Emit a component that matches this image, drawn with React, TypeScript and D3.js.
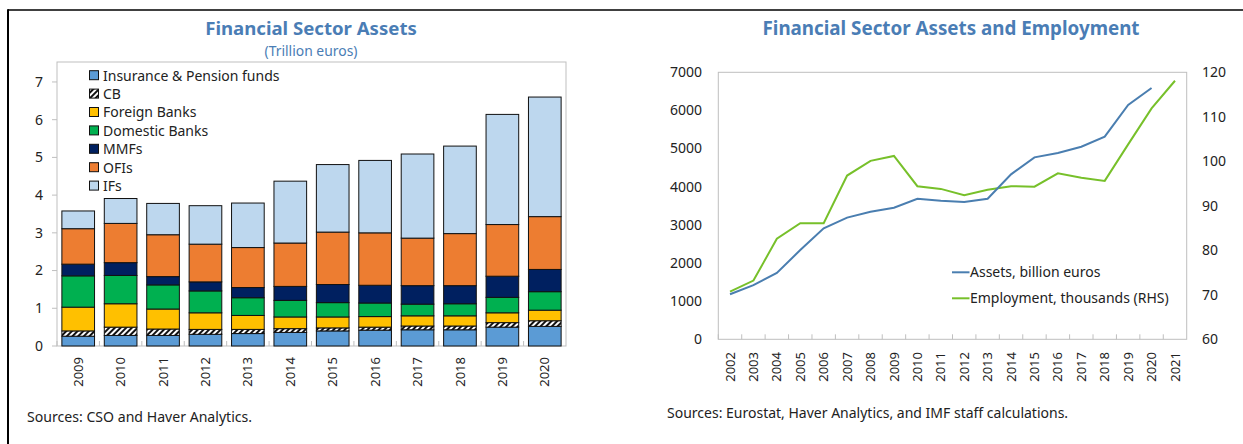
import React from "react";
import * as d3 from "d3";

// ---------- Left chart data ----------
const years1 = ["2009","2010","2011","2012","2013","2014","2015","2016","2017","2018","2019","2020"];
const insurance = [0.26,0.28,0.28,0.31,0.33,0.36,0.40,0.42,0.43,0.43,0.50,0.52];
const cb        = [0.14,0.22,0.17,0.13,0.11,0.10,0.08,0.08,0.10,0.10,0.12,0.15];
const foreign   = [0.63,0.62,0.53,0.44,0.37,0.31,0.29,0.28,0.27,0.27,0.26,0.28];
const domestic  = [0.83,0.75,0.64,0.58,0.47,0.44,0.38,0.36,0.31,0.32,0.41,0.49];
const mmfs      = [0.31,0.34,0.22,0.24,0.27,0.37,0.48,0.47,0.49,0.48,0.56,0.59];
const ofis      = [0.94,1.04,1.11,1.00,1.06,1.15,1.39,1.39,1.26,1.38,1.37,1.40];
const ifs       = [0.47,0.66,0.83,1.02,1.18,1.64,1.79,1.92,2.23,2.32,2.92,3.17];
const seriesNames = ["Insurance & Pension funds","CB","Foreign Banks","Domestic Banks","MMFs","OFIs","IFs"];
const seriesKeys = ["ins","cb","for","dom","mmf","ofi","if"];
const seriesColors = ["#5B9BD5","url(#hatch)","#FFC000","#00B050","#002060","#ED7D31","#BDD7EE"];
const yTicks1 = [0,1,2,3,4,5,6,7];

// ---------- Right chart data ----------
const years2 = ["2002","2003","2004","2005","2006","2007","2008","2009","2010","2011","2012","2013","2014","2015","2016","2017","2018","2019","2020","2021"];
const assets: (number|null)[] = [1180,1420,1740,2340,2910,3190,3346,3450,3686,3630,3600,3686,4325,4771,4884,5050,5312,6142,6588,null];
const employment = [70.7,73.2,82.6,86.1,86.1,96.8,100.1,101.2,94.4,93.8,92.4,93.6,94.4,94.3,97.3,96.3,95.6,103.8,111.9,118.1];
const yTicksL = [0,1000,2000,3000,4000,5000,6000,7000];
const yTicksR = [60,70,80,90,100,110,120];

const FONT = "'Noto Sans', 'Open Sans', sans-serif";
const TITLE_COLOR = "#4A7DB5";
const FRAME = "#BFBFBF";

function LeftChart() {
  const x0 = 57, x1 = 566, yTop = 62, yBot = 346;
  const x = d3.scaleBand<string>().domain(years1).range([x0, x1]).paddingInner(0.23).paddingOuter(0.115);
  const y = d3.scaleLinear().domain([0, 7.5]).range([yBot, yBot - 7.5 * 37.72]);
  const rows = years1.map((yr, i) => ({
    year: yr, ins: insurance[i], cb: cb[i], for: foreign[i], dom: domestic[i], mmf: mmfs[i], ofi: ofis[i], if: ifs[i],
  }));
  const stacked = d3.stack<any>().keys(seriesKeys)(rows);
  const step = (x1 - x0) / years1.length;
  return (
    <g>
      <text x={311} y={35} textAnchor="middle" fontFamily={FONT} fontWeight="bold" fontSize={18.6} fill={TITLE_COLOR}>Financial Sector Assets</text>
      <text x={311} y={56} textAnchor="middle" fontFamily={FONT} fontSize={13.9} fill={TITLE_COLOR}>(Trillion euros)</text>
      <rect x={x0} y={yTop} width={x1 - x0} height={yBot - yTop} fill="white" stroke={FRAME} strokeWidth={1} />
      {yTicks1.map((t) => (
        <g key={t}>
          <line x1={x0 - 5} x2={x0} y1={y(t)} y2={y(t)} stroke={FRAME} />
          <text x={39} y={y(t)} dy="0.35em" textAnchor="middle" fontFamily={FONT} fontSize={14} fill="#222">{t}</text>
        </g>
      ))}
      {years1.map((yr, i) => (
        <line key={"xt" + yr} x1={x0 + step * i} x2={x0 + step * i} y1={yBot} y2={yBot - 5} stroke={FRAME} />
      ))}
      {stacked.map((s, si) => (
        <g key={s.key}>
          {s.map((d, i) => (
            <rect key={i} x={x(years1[i])} width={x.bandwidth()} y={y(d[1])} height={y(d[0]) - y(d[1])}
              fill={seriesColors[si]} stroke="#111" strokeWidth={1} />
          ))}
        </g>
      ))}
      {years1.map((yr) => {
        const cx = (x(yr) as number) + x.bandwidth() / 2;
        return (
          <text key={"xl" + yr} transform={`translate(${cx},${357}) rotate(-90)`} textAnchor="end" dy="0.35em"
            fontFamily={FONT} fontSize={13} fill="#222">{yr}</text>
        );
      })}
      {seriesNames.map((n, i) => {
        const cy = 75.7 + i * 18.4;
        return (
          <g key={n}>
            <rect x={89.5} y={cy - 5} width={9} height={9} fill={seriesColors[i]} stroke="#111" strokeWidth={1} />
            <text x={103} y={cy} dy="0.35em" fontFamily={FONT} fontSize={14} fill="#222">{n}</text>
          </g>
        );
      })}
      <text x={27} y={417} dy="0.35em" fontFamily={FONT} fontSize={14.1} fill="#222">Sources: CSO and Haver Analytics.</text>
    </g>
  );
}

function RightChart() {
  const x0 = 718.3, x1 = 1186.7, yTop = 72.3, yBot = 339.3;
  const x = d3.scaleBand<string>().domain(years2).range([x0, x1]);
  const yL = d3.scaleLinear().domain([0, 7000]).range([yBot, yTop]);
  const yR = d3.scaleLinear().domain([60, 120]).range([yBot, yTop]);
  const cx = (yr: string) => (x(yr) as number) + x.bandwidth() / 2;
  const lineA = d3.line<number | null>().defined((d) => d != null).x((_, i) => cx(years2[i])).y((d) => yL(d as number));
  const lineE = d3.line<number>().x((_, i) => cx(years2[i])).y((d) => yR(d));
  return (
    <g>
      <text x={951} y={35} textAnchor="middle" fontFamily={FONT} fontWeight="bold" fontSize={18.8} fill={TITLE_COLOR}>Financial Sector Assets and Employment</text>
      <rect x={x0} y={yTop} width={x1 - x0} height={yBot - yTop} fill="white" stroke={FRAME} strokeWidth={1} />
      {yTicksL.map((t) => (
        <text key={"l" + t} x={702} y={yL(t)} dy="0.35em" textAnchor="end" fontFamily={FONT} fontSize={14} fill="#222">{t}</text>
      ))}
      {yTicksR.map((t) => (
        <text key={"r" + t} x={1202} y={yR(t)} dy="0.35em" textAnchor="start" fontFamily={FONT} fontSize={14} fill="#222">{t}</text>
      ))}
      {years2.map((yr, i) => (
        <line key={"xt" + yr} x1={x0 + x.step() * i} x2={x0 + x.step() * i} y1={yBot} y2={yBot - 5} stroke={FRAME} />
      ))}
      {years2.map((yr) => (
        <text key={"xl" + yr} transform={`translate(${cx(yr)},${352}) rotate(-90)`} textAnchor="end" dy="0.35em"
          fontFamily={FONT} fontSize={13} fill="#222">{yr}</text>
      ))}
      <path d={lineE(employment) || ""} fill="none" stroke="#77C02A" strokeWidth={2} />
      <path d={lineA(assets) || ""} fill="none" stroke="#4A7EB0" strokeWidth={2} />
      <line x1={952} x2={969.5} y1={272.3} y2={272.3} stroke="#4A7EB0" strokeWidth={2} />
      <text x={970} y={272.3} dy="0.35em" fontFamily={FONT} fontSize={14} fill="#222">Assets, billion euros</text>
      <line x1={952} x2={969.5} y1={298.3} y2={298.3} stroke="#77C02A" strokeWidth={2} />
      <text x={970} y={298.3} dy="0.35em" fontFamily={FONT} fontSize={14} fill="#222">Employment, thousands (RHS)</text>
      <text x={667} y={413} dy="0.35em" fontFamily={FONT} fontSize={14} fill="#222">Sources: Eurostat, Haver Analytics, and IMF staff calculations.</text>
    </g>
  );
}

export default function App() {
  return (
    <svg width={1243} height={444} style={{ position: "absolute", left: 0, top: 0, background: "white" }}>
      <defs>
        <pattern id="hatch" patternUnits="userSpaceOnUse" width={4} height={4} patternTransform="rotate(45)">
          <rect width={4} height={4} fill="white" />
          <rect width={2} height={4} fill="#111" />
        </pattern>
      </defs>
      <rect width={1243} height={444} fill="white" />
      <line x1={8} x2={1243} y1={10} y2={10} stroke="#000" strokeWidth={1.5} />
      <line x1={8} x2={8} y1={9.25} y2={444} stroke="#000" strokeWidth={2} />
      <LeftChart />
      <RightChart />
    </svg>
  );
}
